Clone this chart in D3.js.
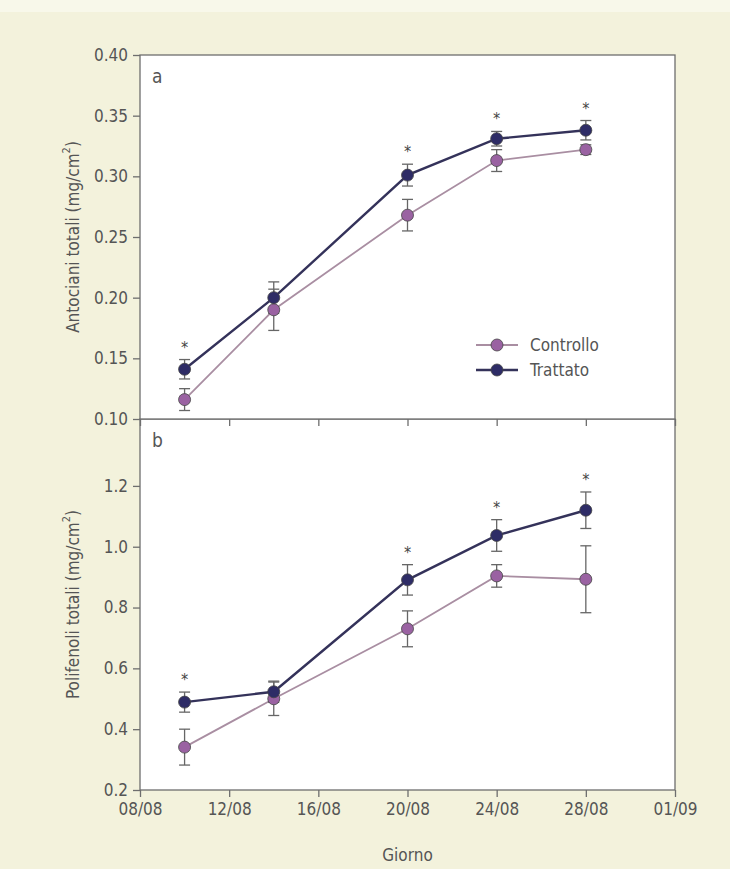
<!DOCTYPE html>
<html>
<head>
<meta charset="utf-8">
<script src="https://cdn.jsdelivr.net/npm/d3@7"></script>
<style>
  body { margin: 0; background: #fff; }
  svg { display: block; }
  text { font-family: "DejaVu Sans Condensed", "DejaVu Sans", sans-serif; fill: #555; }
</style>
</head>
<body>
<svg id="viz"></svg>
<script>
// ----------------------------------------------------------------------------------------------------------------
// DATA

var days = ["10/08", "14/08", "20/08", "24/08", "28/08"];
var xTickLabels = ["08/08", "12/08", "16/08", "20/08", "24/08", "28/08", "01/09"];
var seriesNames = ["Controllo", "Trattato"];

// panel a: antociani totali (mg/cm2)
var antoControllo = [0.116, 0.190, 0.268, 0.313, 0.322];
var antoControlloErr = [0.009, 0.017, 0.013, 0.009, 0.004];
var antoTrattato = [0.141, 0.200, 0.301, 0.331, 0.338];
var antoTrattatoErr = [0.008, 0.013, 0.009, 0.006, 0.008];
var antoStars = [true, false, true, true, true];
var antoTicks = [0.10, 0.15, 0.20, 0.25, 0.30, 0.35, 0.40];

// panel b: polifenoli totali (mg/cm2)
var poliControllo = [0.341, 0.500, 0.730, 0.904, 0.893];
var poliControlloErr = [0.059, 0.055, 0.059, 0.037, 0.110];
var poliTrattato = [0.489, 0.523, 0.891, 1.037, 1.120];
var poliTrattatoErr = [0.033, 0.035, 0.050, 0.052, 0.060];
var poliStars = [true, false, true, true, true];
var poliTicks = [0.2, 0.4, 0.6, 0.8, 1.0, 1.2];

// ----------------------------------------------------------------------------------------------------------------
// INITIAL SETUP

var w = 730;
var h = 869;
var viz = d3.select("#viz").attr("width", w).attr("height", h);

var left = 140, right = 675;
var parseDay = d3.timeParse("%d/%m");
var colors = { "Controllo": "#9a62a2", "Trattato": "#2e2c66" };
var lineColors = { "Controllo": "#a98ea2", "Trattato": "#34325a" };
var frameColor = "#6e6e6e";

// page background
viz.append("rect").attr("x", 0).attr("y", 0).attr("width", w).attr("height", h).attr("fill", "#f8f8ea");
viz.append("rect").attr("x", 0).attr("y", 12).attr("width", w).attr("height", h - 12).attr("fill", "#f3f2dc");

var x = d3.scaleTime()
  .domain([parseDay("08/08"), parseDay("01/09")])
  .range([left, right]);

// ----------------------------------------------------------------------------------------------------------------
// PANELS

function drawPanel(cfg) {
  var y = d3.scaleLinear().domain(cfg.domain).range([cfg.bottom, cfg.top]);
  var g = viz.append("g");

  g.append("rect")
    .attr("x", left).attr("y", cfg.top)
    .attr("width", right - left).attr("height", cfg.bottom - cfg.top)
    .attr("fill", "#fff")
    .attr("stroke", frameColor)
    .attr("stroke-width", 1.3);

  // y axis
  var yAxis = g.append("g")
    .attr("transform", "translate(" + left + ",0)")
    .call(d3.axisLeft(y).tickValues(cfg.ticks).tickFormat(d3.format(cfg.fmt)).tickSize(7).tickPadding(5));
  yAxis.select(".domain").remove();
  yAxis.selectAll("line").attr("stroke", frameColor).attr("stroke-width", 1.3);
  yAxis.selectAll("text").style("font-size", "17px").attr("fill", "#555");

  // x axis
  var xAxis = g.append("g")
    .attr("transform", "translate(0," + cfg.bottom + ")")
    .call(d3.axisBottom(x)
      .tickValues(xTickLabels.map(parseDay))
      .tickFormat(d3.timeFormat("%d/%m"))
      .tickSize(7).tickPadding(6));
  xAxis.select(".domain").remove();
  xAxis.selectAll("line").attr("stroke", frameColor).attr("stroke-width", 1.3);
  xAxis.selectAll("text").style("font-size", "17px").attr("fill", "#555");
  if (!cfg.showX) xAxis.selectAll("text").remove();

  // y title
  var title = g.append("text")
    .attr("transform", "translate(73," + ((cfg.top + cfg.bottom) / 2) + ") rotate(-90)")
    .attr("text-anchor", "middle")
    .attr("dominant-baseline", "central")
    .style("font-size", "17px");
  title.append("tspan").text(cfg.title);
  title.append("tspan").attr("baseline-shift", "super").style("font-size", "11px").text("2");
  title.append("tspan").text(")");

  // panel letter
  g.append("text")
    .attr("x", 152).attr("y", cfg.top + 28)
    .style("font-size", "19px")
    .text(cfg.letter);

  var series = [
    { name: "Controllo", values: cfg.controllo, err: cfg.controlloErr },
    { name: "Trattato", values: cfg.trattato, err: cfg.trattatoErr }
  ];

  var line = d3.line()
    .x(function(d, i) { return x(parseDay(days[i])); })
    .y(function(d) { return y(d); });

  series.forEach(function(s) {
    var sg = g.append("g");
    sg.append("path")
      .datum(s.values)
      .attr("d", line)
      .attr("fill", "none")
      .attr("stroke", lineColors[s.name])
      .attr("stroke-width", s.name === "Trattato" ? 2.4 : 1.8);

    // error bars
    var eb = sg.selectAll("g.err")
      .data(s.values)
      .enter()
      .append("g")
      .attr("class", "err");
    eb.append("line")
      .attr("x1", function(d, i) { return x(parseDay(days[i])); })
      .attr("x2", function(d, i) { return x(parseDay(days[i])); })
      .attr("y1", function(d, i) { return y(d + s.err[i]); })
      .attr("y2", function(d, i) { return y(d - s.err[i]); })
      .attr("stroke", "#666").attr("stroke-width", 1.3);
    [1, -1].forEach(function(sign) {
      eb.append("line")
        .attr("x1", function(d, i) { return x(parseDay(days[i])) - 5.5; })
        .attr("x2", function(d, i) { return x(parseDay(days[i])) + 5.5; })
        .attr("y1", function(d, i) { return y(d + sign * s.err[i]); })
        .attr("y2", function(d, i) { return y(d + sign * s.err[i]); })
        .attr("stroke", "#666").attr("stroke-width", 1.3);
    });
  });

  series.forEach(function(s) {
    g.selectAll("circle." + s.name)
      .data(s.values)
      .enter()
      .append("circle")
      .attr("class", s.name)
      .attr("cx", function(d, i) { return x(parseDay(days[i])); })
      .attr("cy", function(d) { return y(d); })
      .attr("r", 6)
      .attr("fill", colors[s.name])
      .attr("stroke", "#444")
      .attr("stroke-width", 0.8);
  });

  // significance stars above the Trattato error bars
  var starIdx = d3.range(days.length).filter(function(i) { return cfg.stars[i]; });
  g.selectAll("text.star")
    .data(starIdx)
    .enter()
    .append("text")
    .attr("class", "star")
    .attr("x", function(k) { return x(parseDay(days[k])); })
    .attr("y", function(k) { return y(cfg.trattato[k] + cfg.trattatoErr[k]) - 7; })
    .attr("text-anchor", "middle")
    .style("font-size", "16px")
    .style("fill", "#444")
    .text("*");

  return y;
}

// x ticks of panel a poke into panel b; draw b first then a on top
drawPanel({
  top: 419, bottom: 790, domain: [0.2, 1.42], ticks: poliTicks, fmt: ".1f",
  title: "Polifenoli totali (mg/cm", letter: "b", showX: true,
  controllo: poliControllo, controlloErr: poliControlloErr,
  trattato: poliTrattato, trattatoErr: poliTrattatoErr, stars: poliStars
});

drawPanel({
  top: 55, bottom: 419, domain: [0.10, 0.40], ticks: antoTicks, fmt: ".2f",
  title: "Antociani totali (mg/cm", letter: "a", showX: false,
  controllo: antoControllo, controlloErr: antoControlloErr,
  trattato: antoTrattato, trattatoErr: antoTrattatoErr, stars: antoStars
});

// ----------------------------------------------------------------------------------------------------------------
// LEGEND

var legend = viz.append("g").selectAll("g")
  .data(seriesNames)
  .enter()
  .append("g")
  .attr("transform", function(d, i) { return "translate(476," + (345 + i * 25) + ")"; });

legend.append("line")
  .attr("x1", 0).attr("x2", 42).attr("y1", 0).attr("y2", 0)
  .attr("stroke", function(d) { return lineColors[d]; })
  .attr("stroke-width", function(d) { return d === "Trattato" ? 2.4 : 1.8; });
legend.append("circle")
  .attr("cx", 21).attr("cy", 0).attr("r", 6)
  .attr("fill", function(d) { return colors[d]; })
  .attr("stroke", "#444").attr("stroke-width", 0.8);
legend.append("text")
  .attr("x", 54).attr("y", 0)
  .attr("dominant-baseline", "central")
  .style("font-size", "17px")
  .text(function(d) { return d; });

// x title
viz.append("text")
  .attr("x", (left + right) / 2).attr("y", 855)
  .attr("text-anchor", "middle")
  .attr("dominant-baseline", "central")
  .style("font-size", "17px")
  .text("Giorno");
</script>
</body>
</html>
